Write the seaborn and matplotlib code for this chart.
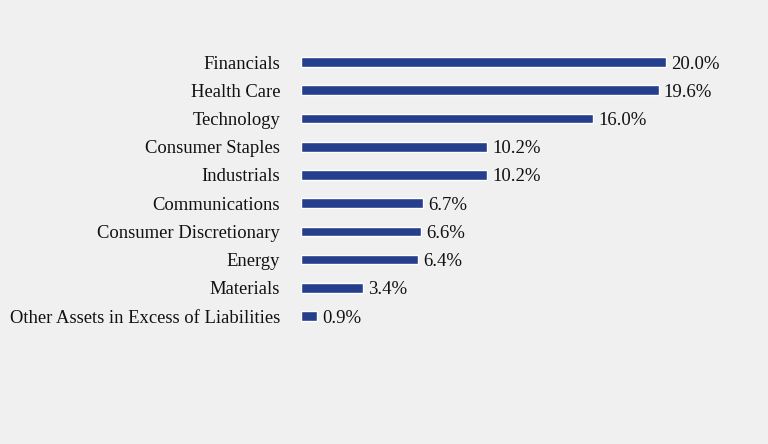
import numpy as np
import pandas as pd
import matplotlib.pyplot as plt
import seaborn as sns

sectors = ["Financials", "Health Care", "Technology", "Consumer Staples", "Industrials",
           "Communications", "Consumer Discretionary", "Energy", "Materials",
           "Other Assets in Excess of Liabilities"]
weights = [20.0, 19.6, 16.0, 10.2, 10.2, 6.7, 6.6, 6.4, 3.4, 0.9]

df = pd.DataFrame({"sector": sectors, "weight": weights})

sns.set_style("white")
plt.rcParams["font.family"] = ["Liberation Serif", "DejaVu Serif"]

fig = plt.figure(figsize=(7.68, 4.44), dpi=100, facecolor="#f0f0f0")
ax = fig.add_axes([301 / 768, 0.2565, 438 / 768, 0.6355])
ax.set_facecolor("#f0f0f0")

sns.barplot(data=df, x="weight", y="sector", color="#253f8c", saturation=1,
            width=0.34, ax=ax)

for i, v in enumerate(weights):
    ax.text(v + 0.28, i, f"{v:.1f}%", va="center_baseline", ha="left",
            fontsize=13.5, color="#111111")

ax.set_xlim(0, 24)
ax.set_ylim(9.5, -0.5)
ax.set_xlabel("")
ax.set_ylabel("")
ax.set_xticks([])
ax.tick_params(axis="y", length=0, pad=15, labelsize=13.4, labelcolor="#111111")
for s in ax.spines.values():
    s.set_visible(False)

fig.savefig("out.png", dpi=100, facecolor=fig.get_facecolor())
